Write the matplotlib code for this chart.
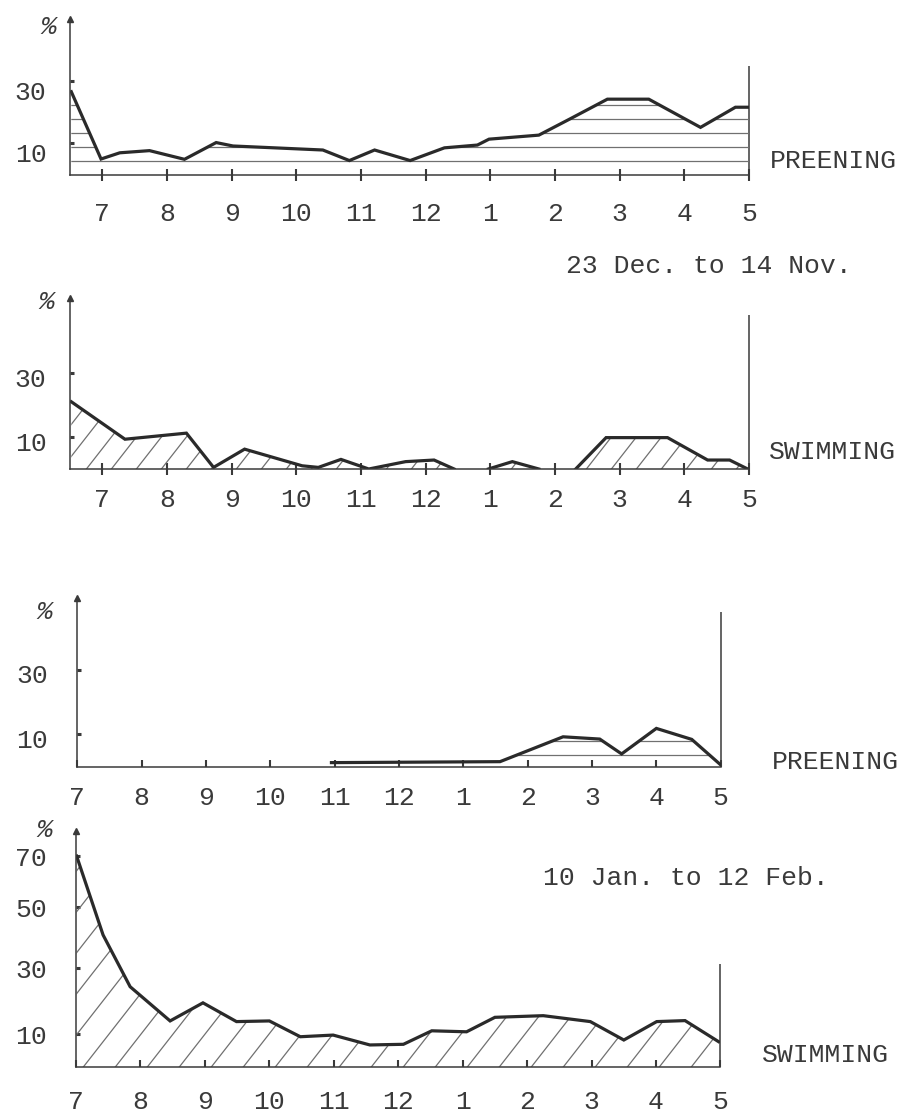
import numpy as np
import matplotlib
matplotlib.use('Agg')
import matplotlib.pyplot as plt
import matplotlib.transforms as mtrans
from matplotlib.patches import Polygon

# ---------------- data ----------------
months = ['7', '8', '9', '10', '11', '12', '1', '2', '3', '4', '5']

# Panel 1: PREENING, 23 Dec. to 14 Nov.
p1_x = [-0.48, -0.02, 0.27, 0.73, 1.27, 1.76, 2.02, 3.41, 3.82, 4.21, 4.76,
        5.29, 5.80, 5.98, 6.75, 7.22, 7.81, 8.45, 9.25, 9.79, 10.0]
p1_y = [26.7, 5.0, 7.0, 7.7, 4.9, 10.3, 9.2, 7.9, 4.5, 7.9, 4.5,
        8.6, 9.5, 11.4, 12.7, 17.8, 24.3, 24.3, 15.2, 21.7, 21.7]

# Panel 2: SWIMMING, 23 Dec. to 14 Nov. (nan = no line drawn)
nan = np.nan
p2_x = [-0.48, 0.35, 1.30, 1.72, 2.20, 3.09, 3.34, 3.69, 4.12, 4.69, 5.13, 5.44,
        5.70, 5.97, 6.34, 6.75, 7.05, 7.32, 7.79, 8.74, 9.36, 9.70, 9.98]
p2_y = [21.0, 9.3, 11.2, 0.5, 6.2, 1.0, 0.5, 3.0, 0.0, 2.3, 2.8, 0.0,
        nan, 0.0, 2.3, 0.0, nan, 0.0, 9.8, 9.8, 2.8, 2.8, 0.0]

# Panel 3: PREENING, 10 Jan. to 12 Feb.
p3_x = [3.95, 6.57, 7.55, 8.12, 8.46, 9.00, 9.55, 10.0]
p3_y = [1.2, 1.5, 9.2, 8.5, 3.9, 11.8, 8.4, 0.5]

# Panel 4: SWIMMING, 10 Jan. to 12 Feb.
p4_x = [0.01, 0.42, 0.84, 1.46, 1.97, 2.49, 3.00, 3.48, 3.99, 4.56, 5.08,
        5.52, 6.06, 6.50, 7.25, 7.98, 8.50, 9.01, 9.45, 9.97]
p4_y = [70.0, 40.9, 24.4, 14.0, 19.5, 13.8, 14.0, 9.2, 9.7, 6.7, 6.9,
        11.0, 10.7, 15.1, 15.6, 13.8, 8.2, 13.8, 14.1, 7.7]

yt_a = [10, 30]
yt_b = [10, 30, 50, 70]

# ---------------- style ----------------
W, H = 902, 1115
FONT = 'Liberation Mono'
FS = 19
LC = '#2a2a2a'
AC = '#3a3a3a'
HC = '#707070'
TC = '#3a3a3a'
plt.rcParams['font.family'] = [FONT, 'DejaVu Sans']

fig = plt.figure(figsize=(W / 100, H / 100), dpi=100)


def add_axes(x0, x1, ytop, ybot):
    return fig.add_axes([x0 / W, 1 - ybot / H, (x1 - x0) / W, (ybot - ytop) / H])


def setup(ax, xlim, ylim, yticks, xdir, xlen, xpad, ypad, ydy, rtop):
    ax.set_xlim(*xlim)
    ax.set_ylim(*ylim)
    ax.patch.set_alpha(0)
    for s in ['top', 'right']:
        ax.spines[s].set_visible(False)
    for s in ['left', 'bottom']:
        ax.spines[s].set_linewidth(1.1)
        ax.spines[s].set_color(AC)
    ax.set_xticks(range(11))
    ax.set_xticklabels(months)
    ax.set_yticks(yticks)
    ax.set_yticklabels([str(t) for t in yticks])
    ax.tick_params(axis='x', direction=xdir, length=xlen, width=1.5, pad=xpad,
                   labelsize=FS, color=AC, labelcolor=TC)
    ax.tick_params(axis='y', direction='in', length=3, width=2.2, pad=ypad,
                   labelsize=FS, color=AC, labelcolor=TC)
    off = mtrans.ScaledTranslation(0, -ydy / 100, fig.dpi_scale_trans)
    for lab in ax.get_yticklabels():
        lab.set_transform(lab.get_transform() + off)
    ax.vlines(xlim[1], 0, rtop, color=AC, lw=1.1, clip_on=False)
    ax.plot([xlim[0]], [ylim[1]], marker='^', ms=4, color=AC, clip_on=False)


def clip_poly(ax, xs, ys):
    xs = np.asarray(xs, float)
    ys = np.nan_to_num(np.asarray(ys, float))
    verts = np.column_stack([np.r_[xs[0], xs, xs[-1]], np.r_[0, ys, 0]])
    poly = Polygon(verts, closed=True, facecolor='none', edgecolor='none',
                   transform=ax.transData)
    ax.add_patch(poly)
    return poly


def hhatch(ax, poly, spacing, hpx, start):
    y = start
    while y < hpx:
        ln, = ax.plot([0, 1], [y / hpx, y / hpx], transform=ax.transAxes,
                      color=HC, lw=0.9)
        ln.set_clip_path(poly)
        y += spacing


def dhatch(ax, poly, spacing, wpx, hpx, angle):
    dx = hpx / np.tan(np.radians(angle))
    x0 = -dx
    while x0 < wpx:
        ln, = ax.plot([x0 / wpx, (x0 + dx) / wpx], [0, 1], transform=ax.transAxes,
                      color=HC, lw=0.9)
        ln.set_clip_path(poly)
        x0 += spacing


# ---------------- panel 1 ----------------
ax1 = add_axes(70, 749, 19.5, 174.5)
setup(ax1, (-0.5, 10), (0, 50), yt_a, 'inout', 8.6, 15.5, 17, 9, 35)
pol = clip_poly(ax1, p1_x, p1_y)
hhatch(ax1, pol, 14, 155, 13)
ax1.plot(p1_x, p1_y, color=LC, lw=2.3, solid_joinstyle='miter')

# ---------------- panel 2 ----------------
ax2 = add_axes(70, 749, 298, 469)
setup(ax2, (-0.5, 10), (0, 53.4), yt_a, 'inout', 8.6, 9.6, 17, 5, 48)
pol = clip_poly(ax2, p2_x, p2_y)
dhatch(ax2, pol, 25, 679, 171, 52)
ax2.plot(p2_x, p2_y, color=LC, lw=2.3, solid_joinstyle='miter')

# ---------------- panel 3 ----------------
ax3 = add_axes(77.3, 720.7, 598, 766.5)
setup(ax3, (0, 10), (0, 52.2), yt_a, 'in', 5, 14.3, 21, 4, 48)
pol = clip_poly(ax3, p3_x, p3_y)
hhatch(ax3, pol, 14, 168.5, 11.5)
ax3.plot(p3_x, p3_y, color=LC, lw=2.3, solid_joinstyle='miter')

# ---------------- panel 4 (hand-drawn, uneven y axis) ----------------
sc_v = [0, 30, 50, 70, 200]
sc_p = [0, 30, 48.6, 64.1, 64.1 + 130 * 0.775]
ax4 = add_axes(76, 720.5, 830.6, 1067)
ax4.set_yscale('function', functions=(lambda v: np.interp(v, sc_v, sc_p),
                                      lambda p: np.interp(p, sc_p, sc_v)))
setup(ax4, (0, 10), (0, 80), yt_b, 'in', 5, 16.8, 21, 0, 31.4)
pol = clip_poly(ax4, p4_x, p4_y)
dhatch(ax4, pol, 32, 644.5, 236.4, 52)
ax4.plot(p4_x, p4_y, color=LC, lw=2.3, solid_joinstyle='miter')

# ---------------- texts ----------------
def ftext(x, y, s, **kw):
    fig.text(x / W, 1 - y / H, s, va='center', ha='left', fontsize=FS,
             color=TC, **kw)


ftext(40, 27, '%', style='italic')
ftext(38, 302, '%', style='italic')
ftext(36, 612, '%', style='italic')
ftext(36, 830, '%', style='italic')
ftext(770, 161, 'PREENING')
ftext(769, 452, 'SWIMMING')
ftext(772, 762, 'PREENING')
ftext(762, 1055, 'SWIMMING')
ftext(566, 266, '23 Dec. to 14 Nov.')
ftext(543, 878, '10 Jan. to 12 Feb.')

fig.savefig('out.png', dpi=100)
